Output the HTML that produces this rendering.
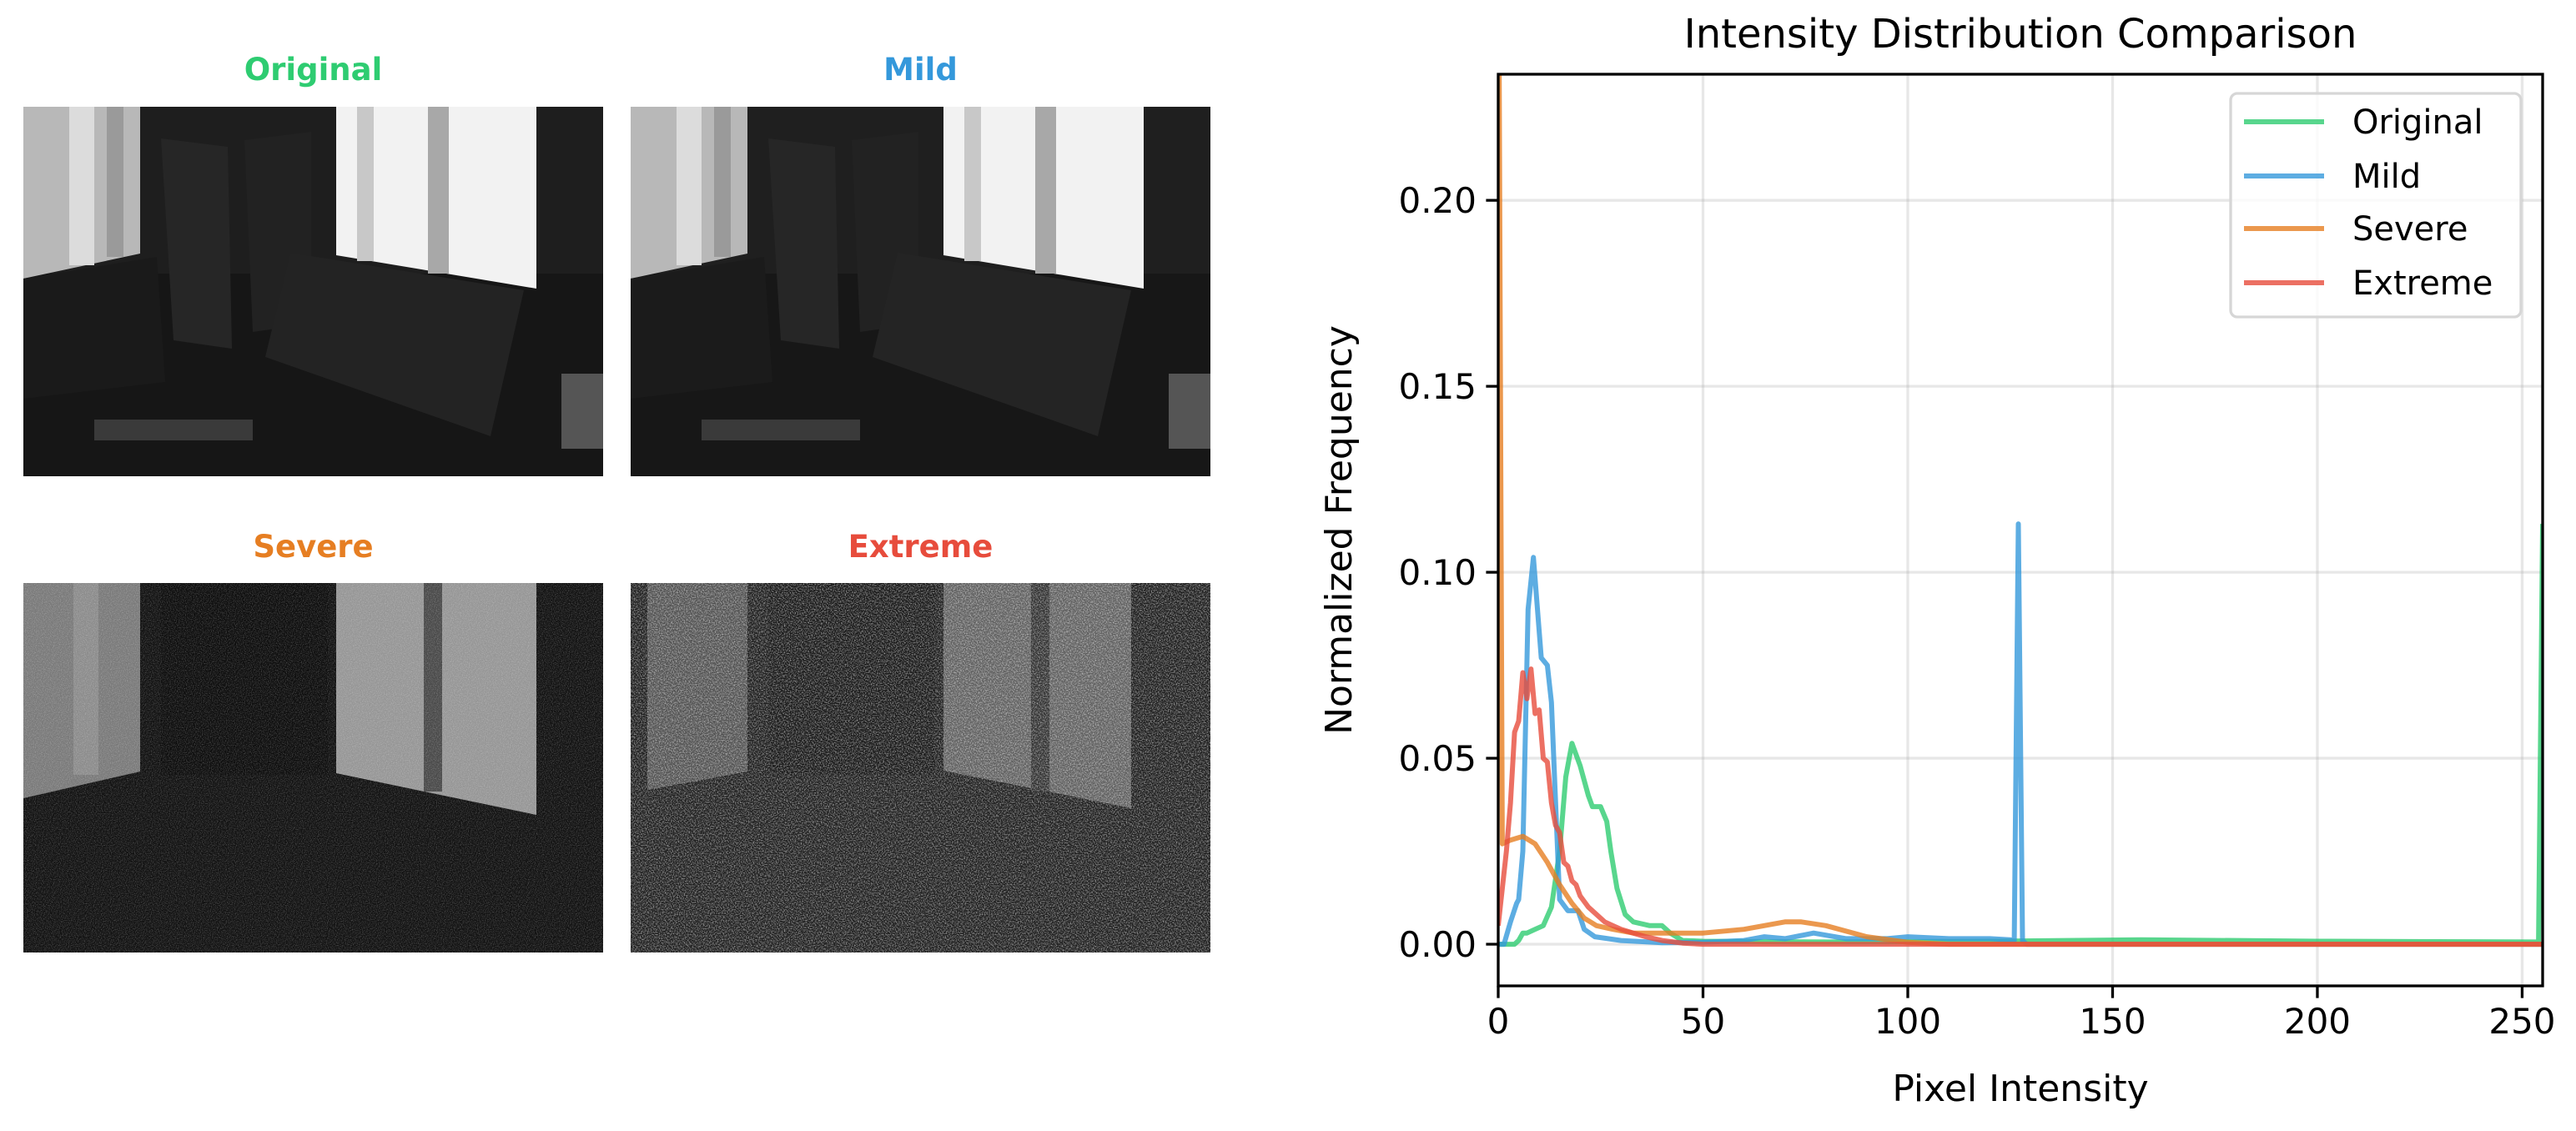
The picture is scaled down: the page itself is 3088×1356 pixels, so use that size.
<!DOCTYPE html>
<html><head><meta charset="utf-8">
<style>
html,body{margin:0;padding:0;background:#fff;}
body{width:3088px;height:1356px;overflow:hidden;position:relative;font-family:"DejaVu Sans","Liberation Sans",sans-serif;}
.ttl{position:absolute;font-weight:bold;font-size:37px;text-align:center;width:695px;}
.img{position:absolute;width:695px;height:443px;}
</style></head>
<body>
<div class="ttl" style="left:28px;top:62px;color:#2ecc71">Original</div>
<div class="ttl" style="left:756px;top:62px;color:#3498db">Mild</div>
<div class="ttl" style="left:28px;top:634px;color:#e67e22">Severe</div>
<div class="ttl" style="left:756px;top:634px;color:#e74c3c">Extreme</div>

<svg width="0" height="0" style="position:absolute">
<defs>
<filter id="noiseS" x="0" y="0" width="100%" height="100%" color-interpolation-filters="sRGB">
<feTurbulence type="fractalNoise" baseFrequency="0.9" numOctaves="1" seed="3" result="n"/>
<feColorMatrix in="n" type="matrix" values="0 0 0 0 1  0 0 0 0 1  0 0 0 0 1  0.7 0 0 0 -0.3" result="w"/>
<feComposite in="w" in2="SourceGraphic" operator="in" result="wn"/>
<feMerge><feMergeNode in="SourceGraphic"/><feMergeNode in="wn"/></feMerge>
</filter>
<filter id="noiseE" x="0" y="0" width="100%" height="100%" color-interpolation-filters="sRGB">
<feTurbulence type="fractalNoise" baseFrequency="0.7" numOctaves="1" seed="7" result="n"/>
<feColorMatrix in="n" type="matrix" values="0 0 0 0 1  0 0 0 0 1  0 0 0 0 1  1.4 0 0 0 -0.55" result="w"/>
<feComposite in="w" in2="SourceGraphic" operator="in" result="wn"/>
<feMerge><feMergeNode in="SourceGraphic"/><feMergeNode in="wn"/></feMerge>
</filter>
</defs>
</svg>

<!-- Original -->
<svg class="img" style="left:28px;top:128px" viewBox="0 0 695 443" preserveAspectRatio="none">
<rect width="695" height="443" fill="#161616"/>
<rect width="695" height="200" fill="#1e1e1e"/>
<polygon points="0,0 140,0 140,176 0,206" fill="#b8b8b8"/>
<rect x="55" y="0" width="30" height="190" fill="#dcdcdc"/>
<rect x="100" y="0" width="20" height="180" fill="#9a9a9a"/>
<polygon points="165,38 245,48 250,290 180,280" fill="#262626"/>
<polygon points="265,40 345,30 345,260 275,270" fill="#222"/>
<polygon points="375,0 615,0 615,218 375,178" fill="#f2f2f2"/>
<rect x="400" y="0" width="20" height="185" fill="#c8c8c8"/>
<rect x="485" y="0" width="25" height="200" fill="#a8a8a8"/>
<polygon points="320,175 600,220 560,395 290,300" fill="#232323"/>
<polygon points="0,206 160,180 170,330 0,350" fill="#1a1a1a"/>
<rect x="85" y="375" width="190" height="25" fill="#3a3a3a"/>
<rect x="645" y="320" width="50" height="90" fill="#555"/>
</svg>
<!-- Mild -->
<svg class="img" style="left:756px;top:128px" viewBox="0 0 695 443" preserveAspectRatio="none">
<rect width="695" height="443" fill="#171717"/>
<rect width="695" height="200" fill="#1f1f1f"/>
<polygon points="0,0 140,0 140,176 0,206" fill="#b8b8b8"/>
<rect x="55" y="0" width="30" height="190" fill="#dcdcdc"/>
<rect x="100" y="0" width="20" height="180" fill="#9a9a9a"/>
<polygon points="165,38 245,48 250,290 180,280" fill="#262626"/>
<polygon points="265,40 345,30 345,260 275,270" fill="#222"/>
<polygon points="375,0 615,0 615,218 375,178" fill="#f2f2f2"/>
<rect x="400" y="0" width="20" height="185" fill="#c8c8c8"/>
<rect x="485" y="0" width="25" height="200" fill="#a8a8a8"/>
<polygon points="320,175 600,220 560,395 290,300" fill="#242424"/>
<polygon points="0,206 160,180 170,330 0,350" fill="#1b1b1b"/>
<rect x="85" y="375" width="190" height="25" fill="#3a3a3a"/>
<rect x="645" y="320" width="50" height="90" fill="#555"/>
</svg>
<!-- Severe -->
<svg class="img" style="left:28px;top:699px" viewBox="0 0 695 443" preserveAspectRatio="none">
<g filter="url(#noiseS)">
<rect width="695" height="443" fill="#121212"/>
<polygon points="0,0 140,0 140,226 0,258" fill="#7a7a7a"/>
<rect x="60" y="0" width="30" height="230" fill="#8c8c8c"/>
<polygon points="375,0 615,0 615,278 375,228" fill="#969696"/>
<rect x="480" y="0" width="22" height="250" fill="#4a4a4a"/>
<rect x="165" y="0" width="200" height="230" fill="#0e0e0e"/>
</g>
</svg>
<!-- Extreme -->
<svg class="img" style="left:756px;top:699px" viewBox="0 0 695 443" preserveAspectRatio="none">
<g filter="url(#noiseE)">
<rect width="695" height="443" fill="#1c1c1c"/>
<polygon points="20,0 140,0 140,226 20,248" fill="#505050"/>
<polygon points="375,0 600,0 600,270 375,225" fill="#5e5e5e"/>
<rect x="480" y="0" width="22" height="250" fill="#303030"/>
<rect x="165" y="0" width="200" height="230" fill="#161616"/>
</g>
</svg>

<svg id="chart" width="3088" height="1356" style="position:absolute;left:0;top:0"></svg>

<script>
const xTicks = [0, 50, 100, 150, 200, 250];
const yTicks = [0.00, 0.05, 0.10, 0.15, 0.20];
const yTickLabels = ["0.00", "0.05", "0.10", "0.15", "0.20"];
const seriesNames = ["Original", "Mild", "Severe", "Extreme"];
const seriesColors = ["#2ecc71", "#3498db", "#e67e22", "#e74c3c"];

const origX = [0,4,5,6,7,9,11,13,15,16.5,18,20,22,23,25,26.5,27.5,29,31,33,37,40,42,45,50,80,120,157,200,254,255];
const origY = [0,0,0.001,0.003,0.003,0.004,0.005,0.010,0.025,0.045,0.054,0.048,0.040,0.037,0.037,0.033,0.025,0.015,0.008,0.006,0.005,0.005,0.003,0.001,0.0008,0.0006,0.0008,0.0012,0.0008,0.0006,0.113];
const mildX = [0,1.4,3,4.5,5,6,7.3,8.6,10.5,12,13,15,17,19.5,21,23.6,30,40,50,60,65,70,77,85,95,100,110,120,125,126,127,128,129,140,200,255];
const mildY = [0,0,0.006,0.011,0.012,0.025,0.090,0.104,0.077,0.075,0.065,0.012,0.009,0.009,0.004,0.002,0.001,0.0004,0.0005,0.001,0.002,0.0015,0.003,0.0015,0.0015,0.002,0.0015,0.0015,0.0012,0.001,0.113,0.001,0,0,0,0];
const sevX = [0,1,3,6,9,12,15,18,21,24,28,33,40,50,60,70,74,80,90,100,110,255];
const sevY = [0.30,0.027,0.028,0.029,0.027,0.022,0.016,0.011,0.007,0.005,0.004,0.003,0.003,0.003,0.004,0.006,0.006,0.005,0.002,0.0005,0,0];
const extX = [0,1,2,3,4,5,6,7,8,9,10,11,12,13,14,15,16,17,18,19,20,22,24,26,28,30,33,36,40,45,50,255];
const extY = [0.005,0.015,0.025,0.038,0.057,0.060,0.073,0.066,0.074,0.062,0.063,0.050,0.049,0.038,0.032,0.030,0.022,0.021,0.017,0.016,0.013,0.010,0.008,0.006,0.005,0.004,0.003,0.002,0.001,0.0003,0,0];

const L = 1796, R = 3048, T = 89, B = 1182;
const xMin = 0, xMax = 255, yMin = -0.0112, yMax = 0.2339;
function sx(v){ return L + (v - xMin) / (xMax - xMin) * (R - L); }
function sy(v){ return B - (v - yMin) / (yMax - yMin) * (B - T); }

const NS = "http://www.w3.org/2000/svg";
const svg = document.getElementById("chart");
function mk(tag, attrs, parent){
  const e = document.createElementNS(NS, tag);
  for (const k in attrs) e.setAttribute(k, attrs[k]);
  (parent || svg).appendChild(e);
  return e;
}

const defs = mk("defs", {});
const cp = mk("clipPath", {id: "plotclip"}, defs);
mk("rect", {x: L, y: T, width: R - L, height: B - T}, cp);

xTicks.forEach(function(t){
  const g = mk("line", {x1: sx(t), x2: sx(t), y1: T, y2: B, stroke: "#b0b0b0", "stroke-opacity": 0.3, "stroke-width": 3.3});
  
  
});
yTicks.forEach(function(t){
  const g = mk("line", {x1: L, x2: R, y1: sy(t), y2: sy(t), stroke: "#b0b0b0", "stroke-opacity": 0.3, "stroke-width": 3.3});
  
  
});

const allX = [origX, mildX, sevX, extX];
const allY = [origY, mildY, sevY, extY];
const seriesG = mk("g", {"clip-path": "url(#plotclip)"});
for (let s = 0; s < 4; s++){
  const pts = allX[s].map(function(x, i){ return sx(x).toFixed(1) + "," + sy(allY[s][i]).toFixed(1); }).join(" ");
  const pl = mk("polyline", {points: pts, fill: "none", stroke: seriesColors[s], "stroke-opacity": 0.8, "stroke-width": 6, "stroke-linejoin": "round"}, seriesG);
  
  
}

const frame = mk("rect", {x: L, y: T, width: R - L, height: B - T, fill: "none", stroke: "#000", "stroke-width": 3.3});



xTicks.forEach(function(t){
  const tk = mk("line", {x1: sx(t), x2: sx(t), y1: B, y2: B + 14.6, stroke: "#000", "stroke-width": 3.3});
  
  
  const lb = mk("text", {x: sx(t), y: B + 57, "text-anchor": "middle", "font-size": 42, fill: "#000"});
  lb.textContent = String(t);
  
  
});
yTicks.forEach(function(t, i){
  const tk = mk("line", {x1: L - 14.6, x2: L, y1: sy(t), y2: sy(t), stroke: "#000", "stroke-width": 3.3});
  
  
  const lb = mk("text", {x: L - 26, y: sy(t) + 15, "text-anchor": "end", "font-size": 42, fill: "#000"});
  lb.textContent = yTickLabels[i];
  
  
});

const title = mk("text", {x: (L + R) / 2, y: 57, "text-anchor": "middle", "font-size": 48, fill: "#000"});
title.textContent = "Intensity Distribution Comparison";


const xl = mk("text", {x: (L + R) / 2, y: 1320, "text-anchor": "middle", "font-size": 44, fill: "#000"});
xl.textContent = "Pixel Intensity";


const yl = mk("text", {x: 0, y: 0, "text-anchor": "middle", "font-size": 44, fill: "#000", transform: "translate(1620," + ((T + B) / 2) + ") rotate(-90)"});
yl.textContent = "Normalized Frequency";



const lg = mk("g", {});


mk("rect", {x: 2674, y: 112, width: 348, height: 268, rx: 8, fill: "#fff", "fill-opacity": 0.8, stroke: "#d6d6d6", "stroke-width": 3.3}, lg);
const rowsY = [146, 211, 274, 339];
for (let s = 0; s < 4; s++){
  const ln = mk("line", {x1: 2690, x2: 2786, y1: rowsY[s], y2: rowsY[s], stroke: seriesColors[s], "stroke-opacity": 0.8, "stroke-width": 6}, lg);
  
  
  const tx = mk("text", {x: 2820, y: rowsY[s] + 14, "font-size": 40, fill: "#000"}, lg);
  tx.textContent = seriesNames[s];
  
  
}
</script>
</body></html>
